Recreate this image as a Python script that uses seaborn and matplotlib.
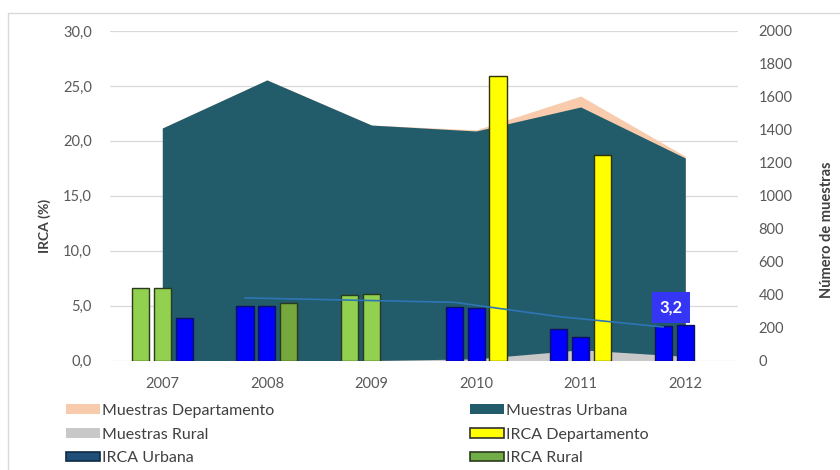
import numpy as np
import pandas as pd
import matplotlib
matplotlib.use("Agg")
import matplotlib.pyplot as plt
import seaborn as sns
from matplotlib.patches import Patch, Rectangle
from matplotlib.ticker import FuncFormatter

# ---------------- data ----------------
years = ["2007", "2008", "2009", "2010", "2011", "2012"]
muestras_departamento = [1411, 1703, 1429, 1400, 1605, 1240]
muestras_urbana = [1411, 1703, 1429, 1393, 1539, 1229]
muestras_rural = [0, 0, 0, 10, 65, 25]

irca_slot1 = [6.6, 5.0, 6.0, 4.9, 2.9, 3.1]
irca_slot2 = [6.6, 5.0, 6.1, 4.8, 2.1, 3.2]
irca_slot3 = [3.9, 5.2, np.nan, 25.9, 18.7, np.nan]
color_slot1 = ["lgreen", "blue", "lgreen", "blue", "blue", "blue"]
color_slot2 = ["lgreen", "blue", "lgreen", "blue", "blue", "blue"]
color_slot3 = ["blue", "dgreen", "none", "yellow", "yellow", "none"]

tendencia_years = ["2008", "2009", "2010", "2011", "2012"]
tendencia = [5.7, 5.5, 5.3, 4.0, 3.05]
etiqueta_2012 = "3,2"
etiqueta_valor = 3.2

left_ticks = [0, 5, 10, 15, 20, 25, 30]
right_ticks = list(range(0, 2001, 200))

# ---------------- style ----------------
sns.set_theme(style="white")
plt.rcParams["font.family"] = ["Lato", "DejaVu Sans"]

palette = {
    "lgreen": "#92d050",
    "dgreen": "#77a83d",
    "blue": "#0000ff",
    "yellow": "#ffff00",
}
edge = {
    "lgreen": "#2b3a1c",
    "dgreen": "#2b3a1c",
    "blue": "#101060",
    "yellow": "#303000",
}
c_peach = "#f8cbad"
c_teal = "#225b69"
c_grey = "#c8c8c8"
tick_col = "#595959"

fig = plt.figure(figsize=(8.4, 4.7), dpi=100)
ax_area = fig.add_axes([110 / 840, 109.5 / 470, 627.6 / 840, 329.5 / 470])
ax = ax_area.twinx()

xpos = np.arange(len(years))

# grid behind areas
for t in left_ticks:
    ax_area.axhline(t * 2000 / 30, color="#d9d9d9", lw=0.9, zorder=0)

ax_area.fill_between(xpos, muestras_departamento, color=c_peach, lw=0, zorder=1)
ax_area.fill_between(xpos, muestras_urbana, color=c_teal, lw=0, zorder=2)
ax_area.fill_between(xpos, muestras_rural, color=c_grey, lw=0, zorder=3)
ax_area.set_ylim(0, 2000)
ax_area.set_yticks(right_ticks)

# bars
rows = []
colmap = {}
for slot, vals, cols in (("s1", irca_slot1, color_slot1),
                         ("s2", irca_slot2, color_slot2),
                         ("s3", irca_slot3, color_slot3)):
    for i, (y, v, c) in enumerate(zip(years, vals, cols)):
        if not np.isnan(v):
            rows.append({"year": y, "value": v, "slot": slot})
            colmap[(i, slot)] = c
df = pd.DataFrame(rows)

sns.barplot(data=df, x="year", y="value", hue="slot", order=years,
            hue_order=["s1", "s2", "s3"], width=0.63, gap=0.22,
            saturation=1, legend=False, ax=ax, zorder=3)

slot_step = 0.63 / 3
for p in ax.patches:
    cx = p.get_x() + p.get_width() / 2
    i = int(round(cx))
    k = int(round((cx - i) / slot_step)) + 2
    c = colmap.get((i, f"s{k}"), "blue")
    p.set_facecolor(palette[c])
    p.set_edgecolor(edge[c])
    p.set_linewidth(1.0)

# trend line (at first-slot positions)
tx = np.array([years.index(y) for y in tendencia_years]) - slot_step
sns.lineplot(x=tx, y=tendencia, ax=ax, color="#2e75b6", lw=1.2, zorder=4)

ax.annotate(etiqueta_2012, xy=(years.index("2012"), etiqueta_valor),
            xytext=(-10.4, 12.5), textcoords="offset points",
            ha="center", va="center", color="white", fontweight="bold",
            fontsize=12,
            bbox=dict(boxstyle="square,pad=0.45", fc="#3535f5", ec="none"),
            zorder=6)

ax.set_ylim(0, 30)
ax.set_yticks(left_ticks)
ax.yaxis.set_major_formatter(FuncFormatter(lambda v, _: f"{v:.1f}".replace(".", ",")))
ax.set_xlim(-0.5, 5.5)
ax_area.set_xlim(-0.5, 5.5)
ax_area.set_xticks(xpos, years)

# swap sides: percentages on the left, samples on the right
ax.yaxis.tick_left()
ax.yaxis.set_label_position("left")
ax_area.yaxis.tick_right()
ax_area.yaxis.set_label_position("right")

for a in (ax, ax_area):
    for s in a.spines.values():
        s.set_visible(False)
    a.tick_params(length=0, labelsize=10.5, labelcolor=tick_col)
ax.tick_params(axis="y", pad=13)
ax_area.tick_params(axis="y", pad=15)
ax_area.tick_params(axis="x", pad=12)
ax.set_xlabel("")
ax.set_ylabel("IRCA (%)", fontsize=10, fontweight="bold", color="#404040")
ax.yaxis.set_label_coords((51 - 110) / 627.6, (360.5 - 226) / 329.5)
ax_area.set_ylabel("Número de muestras", fontsize=10.5, fontweight="bold",
                   color="#404040")
ax_area.yaxis.set_label_coords((820 - 110) / 627.6, (360.5 - 230) / 329.5)

# legend
def h(fc, ec="none"):
    return Patch(facecolor=fc, edgecolor=ec, linewidth=1.2)

leg_kw = dict(frameon=False, fontsize=11.5, handlelength=2.13, handleheight=0.56,
              handletextpad=0.12, labelspacing=0.6, borderpad=0, borderaxespad=0,
              labelcolor="#404040", loc="upper left")
fig.legend([h(c_peach), h(c_grey), h("#1f4e79", "#0f2a44")],
           ["Muestras Departamento", "Muestras Rural", "IRCA Urbana"],
           bbox_to_anchor=(66 / 840, 1 - 404 / 470), **leg_kw)
fig.legend([h(c_teal), h("#ffff00", "#303030"), h("#70ad47", "#2b3a1c")],
           ["Muestras Urbana", "IRCA Departamento", "IRCA Rural"],
           bbox_to_anchor=(470 / 840, 1 - 404 / 470), **leg_kw)

fig.patches.append(Rectangle((8 / 840, -0.05), 1.2, 1.05 - 13 / 470,
                             transform=fig.transFigure, fill=False,
                             ec="#d9d9d9", lw=1))

fig.savefig("out.png", dpi=100)
